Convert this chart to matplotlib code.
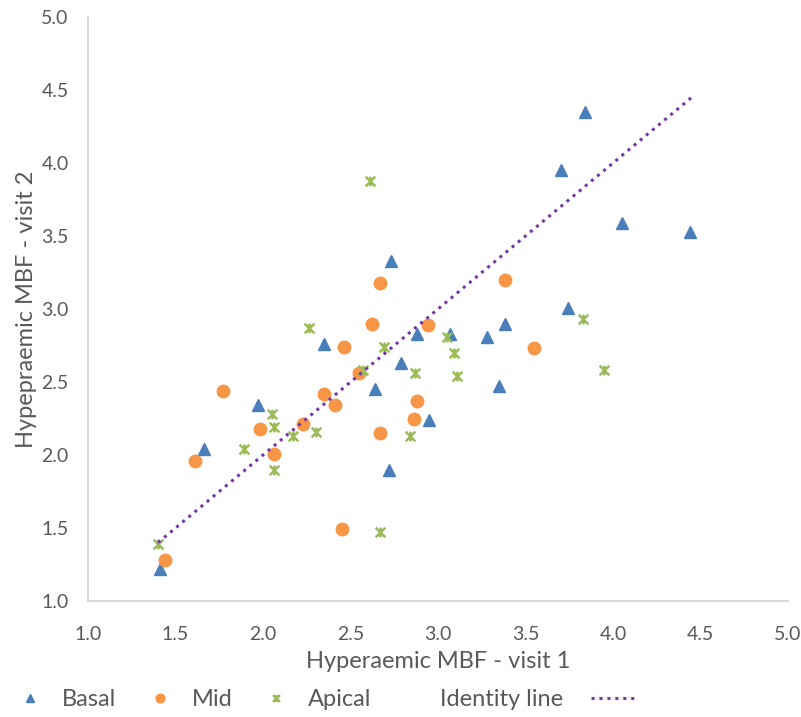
import numpy as np
import matplotlib.pyplot as plt
from matplotlib.path import Path
from matplotlib.lines import Line2D

plt.rcParams['font.family'] = ['Lato', 'DejaVu Sans']

# Hyperaemic MBF per segment, visit 1 (x) vs visit 2 (y)
basal_x = [1.41, 1.66, 1.97, 2.35, 2.64, 2.72, 2.73, 2.79, 2.88, 2.95,
           3.07, 3.28, 3.35, 3.38, 3.70, 3.74, 3.84, 4.05, 4.44]
basal_y = [1.22, 2.04, 2.34, 2.76, 2.45, 1.90, 3.33, 2.63, 2.83, 2.24,
           2.83, 2.81, 2.47, 2.90, 3.95, 3.01, 4.35, 3.59, 3.53]

mid_x = [1.44, 1.61, 1.77, 1.98, 2.06, 2.23, 2.35, 2.41, 2.45, 2.46,
         2.55, 2.62, 2.67, 2.67, 2.86, 2.88, 2.94, 3.38, 3.55]
mid_y = [1.28, 1.96, 2.44, 2.18, 2.01, 2.21, 2.42, 2.34, 1.49, 2.74,
         2.56, 2.90, 3.18, 2.15, 2.25, 2.37, 2.89, 3.20, 2.73]

apical_x = [1.40, 1.89, 2.05, 2.06, 2.06, 2.17, 2.26, 2.30, 2.57, 2.61,
            2.67, 2.69, 2.84, 2.87, 3.05, 3.09, 3.11, 3.83, 3.95]
apical_y = [1.39, 2.04, 2.28, 2.19, 1.90, 2.13, 2.87, 2.16, 2.58, 3.88,
            1.47, 2.74, 2.13, 2.56, 2.81, 2.70, 2.54, 2.93, 2.58]

identity = [1.40, 4.46]

ticks = [1.0, 1.5, 2.0, 2.5, 3.0, 3.5, 4.0, 4.5, 5.0]

blue = '#4A7EBB'
orange = '#F79646'
green = '#9BBB59'
purple = '#7536A8'
grey_text = '#595959'

# star marker: an X with a vertical stroke through it
star = Path([(-1, -1), (1, 1), (-1, 1), (1, -1), (0, -1), (0, 1)],
            [Path.MOVETO, Path.LINETO, Path.MOVETO, Path.LINETO,
             Path.MOVETO, Path.LINETO])

fig = plt.figure(figsize=(8.01, 7.17), dpi=100)
ax = fig.add_axes([88 / 801, 1 - 601 / 717, 700 / 801, 584 / 717])

ax.plot(basal_x, basal_y, ls='none', marker='^', ms=9, color=blue,
        mec=blue, label='Basal')
ax.plot(mid_x, mid_y, ls='none', marker='o', ms=9, color=orange,
        mec=orange, label='Mid')
ax.plot(apical_x, apical_y, ls='none', marker=star, ms=7, mew=1.8,
        color=green, label='Apical')
ax.plot(identity, identity, ls=(0, (1, 1.6)), lw=2.2, color=purple,
        label='Identity line')

ax.set_xlim(1.0, 5.0)
ax.set_ylim(1.0, 5.0)
ax.set_xticks(ticks)
ax.set_yticks(ticks)
ax.set_xticklabels([f'{t:.1f}' for t in ticks])
ax.set_yticklabels([f'{t:.1f}' for t in ticks])
ax.tick_params(length=0, labelsize=14, colors=grey_text)
ax.tick_params(axis='x', pad=18)
ax.tick_params(axis='y', pad=14)

for side in ['top', 'right']:
    ax.spines[side].set_visible(False)
for side in ['left', 'bottom']:
    ax.spines[side].set_color('#D9D9D9')
    ax.spines[side].set_linewidth(1.5)

ax.set_xlabel('Hyperaemic MBF - visit 1', fontsize=17, color=grey_text,
              labelpad=6)
ax.set_ylabel('Hypepraemic MBF - visit 2', fontsize=17, color=grey_text,
              labelpad=3)

handles, labels = ax.get_legend_handles_labels()
leg1 = fig.legend(handles[:3], labels[:3], loc='center left',
                  bbox_to_anchor=(4 / 801, 0.024), ncol=3, frameon=False,
                  borderpad=0, fontsize=17, labelcolor=grey_text,
                  handlelength=1.2, markerscale=0.7, columnspacing=1.25,
                  handletextpad=0.75)
ident = Line2D([], [], ls=(0, (1, 1.6)), lw=2.2, color=purple)
leg2 = fig.legend([ident], ['Identity line'], loc='center left',
                  bbox_to_anchor=(428 / 801, 0.024), frameon=False,
                  borderpad=0, fontsize=17, labelcolor=grey_text,
                  markerfirst=False, handlelength=2.0, handletextpad=1.2)

fig.savefig('out.png', dpi=100)
